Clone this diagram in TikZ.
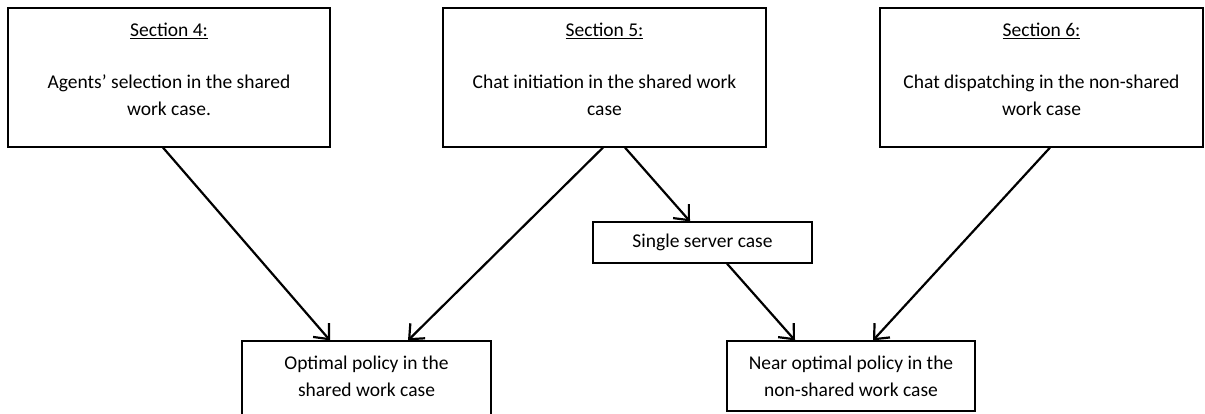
\documentclass[tikz,border=0pt]{standalone}
\usepackage{fontspec}
\setmainfont{Carlito}
\usetikzlibrary{arrows.meta}

\tikzset{
  box/.style={draw, line width=1.2pt, inner sep=0pt},
  txt/.style={align=center, font=\fontsize{19.5}{27}\selectfont},
  arr/.style={line width=2.2pt, -{Straight Barb[length=12pt,width=21pt]}}
}

\begin{document}
\begin{tikzpicture}[x=1pt, y=1pt]
    \useasboundingbox (0,0) rectangle (1205,-414);

    % Section boxes along the top
    \node[box, minimum width=322pt, minimum height=139pt] (s4) at (169,-77.5) {};
    \node[box, minimum width=323pt, minimum height=139pt] (s5) at (604.5,-77.5) {};
    \node[box, minimum width=323pt, minimum height=139pt] (s6) at (1041.5,-77.5) {};

    \node[txt] (s4t) at (169,-31) {\underline{Section 4:}};
    \node[txt] (s4b) at (169,-95) {Agents’ selection in the shared\\work case.};
    \node[txt] (s5t) at (604.5,-31) {\underline{Section 5:}};
    \node[txt] (s5b) at (604.5,-95) {Chat initiation in the shared work\\case};
    \node[txt] (s6t) at (1041.5,-31) {\underline{Section 6:}};
    \node[txt] (s6b) at (1041.5,-95) {Chat dispatching in the non-shared\\work case};

    % Middle and bottom boxes
    \node[box, txt, minimum width=219pt, minimum height=41pt] (single) at (702.5,-242.5) {Single server case};
    \node[box, minimum width=249pt, minimum height=79pt] (opt) at (366.5,-380.5) {};
    \node[txt] (optt) at (366.5,-376) {Optimal policy in the\\shared work case};
    \node[box, txt, minimum width=248pt, minimum height=70pt] (near) at (851,-376) {Near optimal policy in the\\non-shared work case};

    % Arrows
    \draw[arr] ([xshift=-6pt]s4.south) -- ([xshift=-36.5pt]opt.north);
    \draw[arr] ([xshift=-1.5pt]s5.south) -- ([xshift=41.5pt]opt.north);
    \draw[arr] ([xshift=20.5pt]s5.south) -- ([xshift=-12.5pt]single.north);
    \draw[arr] ([xshift=24.5pt]single.south) -- ([xshift=-56pt]near.north);
    \draw[arr] ([xshift=8.5pt]s6.south) -- ([xshift=22pt]near.north);
\end{tikzpicture}
\end{document}
